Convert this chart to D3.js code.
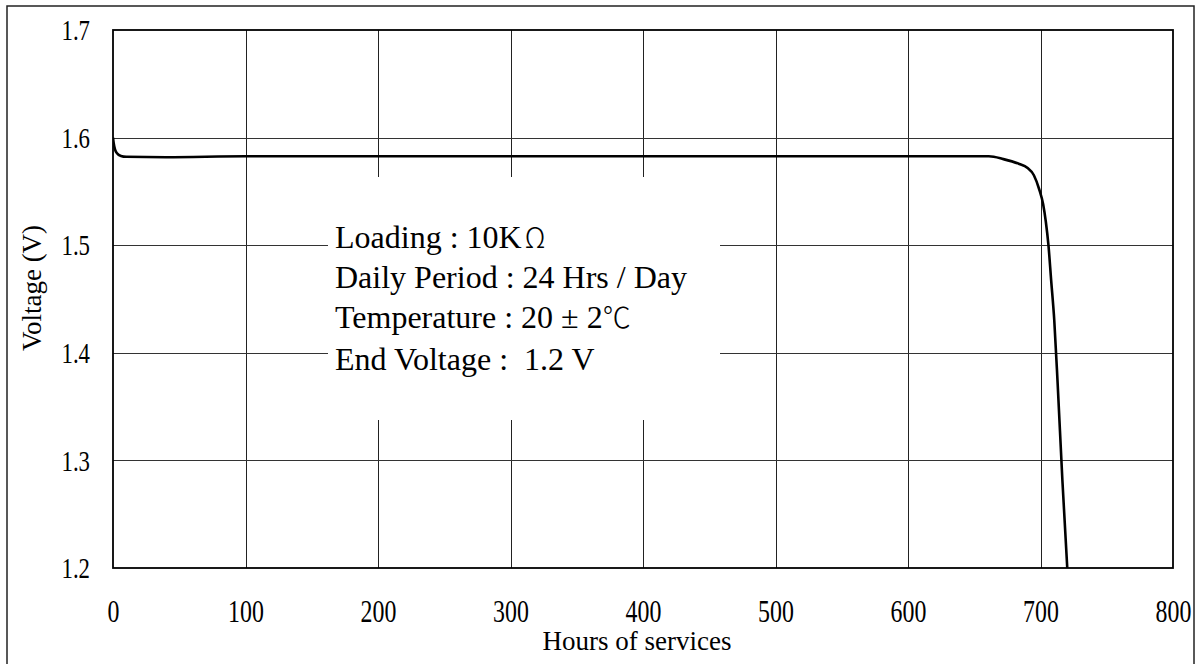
<!DOCTYPE html>
<html><head><meta charset="utf-8">
<script src="https://cdn.jsdelivr.net/npm/d3@7"></script>
<style>
html,body{margin:0;padding:0;background:#fff;}
svg{display:block;}
text{font-family:"Liberation Serif","Times New Roman",serif;fill:#000;white-space:pre;}
.cjk{font-family:"Noto Sans CJK TC","Noto Sans CJK SC",sans-serif;font-weight:300;}
</style></head>
<body>
<svg id="chart" width="1198" height="664"></svg>
<script>
// ---- data ----
const hours   = [0, 0.5, 1.5, 3, 6, 10, 40, 100, 200, 300, 400, 500, 600, 661, 672, 684, 690, 695, 699, 702, 704, 706, 708, 710.4, 713, 716.5, 720.2];
const voltage = [1.600, 1.595, 1.589, 1.5855, 1.583, 1.5822, 1.5818, 1.5826, 1.5826, 1.5826, 1.5826, 1.5826, 1.5826, 1.5826, 1.580, 1.5755, 1.572, 1.565, 1.552, 1.538, 1.522, 1.500, 1.468, 1.430, 1.370, 1.282, 1.200];
const xTicks = [0, 100, 200, 300, 400, 500, 600, 700, 800];
const yTicks = [1.2, 1.3, 1.4, 1.5, 1.6, 1.7];
// each note: [latin part, CJK-symbol part]
const notes = [["Loading : 10K", "Ω"], ["Daily Period : 24 Hrs / Day", ""], ["Temperature : 20 ± 2", "℃"], ["End Voltage :  1.2 V", ""]];
const xTitle = "Hours of services";
const yTitle = "Voltage (V)";

// ---- layout ----
const svg = d3.select("#chart");
const L = 113, R = 1173, T = 30, B = 568;
const x = d3.scaleLinear().domain([0, 800]).range([L, R]);
const y = d3.scaleLinear().domain([1.2, 1.7]).range([B, T]);

// outer frame
svg.append("rect").attr("x", 7).attr("y", 6).attr("width", 1187).attr("height", 670)
  .attr("fill", "none").attr("stroke", "#222").attr("stroke-width", 1.5);

// grid
const grid = svg.append("g");
grid.selectAll(".vg").data(xTicks.slice(1, -1)).join("line")
  .attr("x1", d => Math.round(x(d)) + 0.5).attr("x2", d => Math.round(x(d)) + 0.5)
  .attr("y1", T).attr("y2", B).attr("stroke", "#222").attr("stroke-width", 1);
grid.selectAll(".hg").data(yTicks.slice(1, -1)).join("line")
  .attr("y1", d => Math.round(y(d)) + 0.5).attr("y2", d => Math.round(y(d)) + 0.5)
  .attr("x1", L).attr("x2", R).attr("stroke", "#333").attr("stroke-width", 1);

// white notes box
svg.append("rect").attr("x", 328).attr("y", 177).attr("width", 392).attr("height", 243).attr("fill", "#fff");

// curve
svg.append("clipPath").attr("id", "clip").append("rect")
  .attr("x", L).attr("y", T).attr("width", R - L).attr("height", B - T);
const line = d3.line().x((d, i) => x(hours[i])).y((d, i) => y(voltage[i])).curve(d3.curveMonotoneX);
svg.append("path").datum(voltage).attr("d", line).attr("fill", "none")
  .attr("stroke", "#000").attr("stroke-width", 2.6).attr("clip-path", "url(#clip)");

// plot border
svg.append("rect").attr("x", L).attr("y", T).attr("width", R - L).attr("height", B - T)
  .attr("fill", "none").attr("stroke", "#000").attr("stroke-width", 1.8);

// axes (labels only)
const xAxis = svg.append("g").attr("transform", `translate(0,${B})`)
  .call(d3.axisBottom(x).tickValues(xTicks).tickSize(0).tickPadding(0).tickFormat(d3.format("d")));
xAxis.select(".domain").remove();
xAxis.selectAll("text").attr("y", 0).attr("dy", 0)
  .attr("transform", "translate(0,54) scale(0.77,1)")
  .style("font-size", "31px").style("font-family", "'Liberation Serif',serif");

const yAxis = svg.append("g").attr("transform", `translate(${L},0)`)
  .call(d3.axisLeft(y).tickValues(yTicks).tickSize(0).tickPadding(0).tickFormat(d3.format(".1f")));
yAxis.select(".domain").remove();
yAxis.selectAll("text").attr("x", 0).attr("dy", "0.34em")
  .attr("transform", "translate(-23,0) scale(0.8,1)")
  .style("font-size", "28.5px").style("font-family", "'Liberation Serif',serif");

// titles
svg.append("text").attr("x", 637).attr("y", 650).attr("text-anchor", "middle")
  .style("font-size", "27px").text(xTitle);
svg.append("text").attr("transform", "translate(41,288) rotate(-90)").attr("text-anchor", "middle")
  .style("font-size", "27px").text(yTitle);

// notes
const baselines = [248, 288, 328, 370];
const nt = svg.selectAll(".note").data(notes).join("text")
  .attr("x", 335).attr("y", (d, i) => baselines[i])
  .style("font-size", "32px");
nt.append("tspan").text(d => d[0]);
nt.append("tspan").attr("class", "cjk").attr("dx", d => d[0].endsWith("K") ? 3 : 0)
  .style("font-size", "28px").text(d => d[1]);
</script>
</body></html>
